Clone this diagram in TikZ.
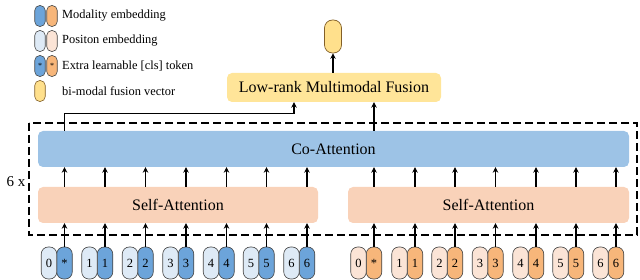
\documentclass[tikz,border=0pt]{standalone}
\usepackage{fontspec}
\setmainfont{Liberation Serif}
\usetikzlibrary{arrows.meta,calc}
\definecolor{blueD}{RGB}{108,164,218}
\definecolor{blueL}{RGB}{222,234,246}
\definecolor{orD}{RGB}{247,182,122}
\definecolor{orL}{RGB}{251,228,214}
\definecolor{coatt}{RGB}{157,195,230}
\definecolor{selfatt}{RGB}{249,210,185}
\definecolor{lmfc}{RGB}{255,229,153}
\definecolor{fusec}{RGB}{255,224,140}
\definecolor{fuseb}{RGB}{130,95,40}
\definecolor{pillb}{RGB}{70,70,70}
\tikzset{
  pill/.style={draw=pillb,line width=0.6pt,rounded corners=7pt,minimum width=15.5pt,minimum height=32pt,inner sep=0pt,font=\fontsize{12.5}{12.5}\selectfont},
  lpill/.style={draw=pillb,line width=0.6pt,rounded corners=5pt,minimum width=10.5pt,minimum height=21pt,inner sep=0pt,font=\fontsize{8}{8}\selectfont},
  bigbox/.style={rounded corners=5pt,inner sep=0pt,font=\fontsize{16}{16}\selectfont},
  arr/.style={line width=1.2pt,-{Stealth[length=5.5pt,width=5.5pt]}},
  legtxt/.style={anchor=west,inner sep=0pt,font=\fontsize{12.4}{12.4}\selectfont}
}
\begin{document}
\begin{tikzpicture}[x=1pt,y=-1pt]
\useasboundingbox (0,0) rectangle (640,280);
% legend
\node[lpill,fill=blueD] (lg1a) at (40,16) {};
\node[lpill,fill=orD] (lg1b) at (52,16) {};
\node[legtxt] (lt1) at (62,16) {Modality embedding};
\node[lpill,fill=blueL] (lg2a) at (40,41) {};
\node[lpill,fill=orL] (lg2b) at (52,41) {};
\node[legtxt] (lt2) at (62,41) {Positon embedding};
\node[lpill,fill=blueD] (lg3a) at (40,66) {*};
\node[lpill,fill=orD] (lg3b) at (52,66) {*};
\node[legtxt] (lt3) at (62,66) {Extra learnable [cls] token};
\node[lpill,fill=fusec,draw=fuseb] (lg4a) at (40,91) {};
\node[legtxt] (lt4) at (62,91) {bi-modal fusion vector};
% dashed box
\draw[line width=1.2pt,dash pattern=on 8pt off 4pt] (29,123) rectangle (637,235);
\node[font=\fontsize{15}{15}\selectfont,inner sep=0pt] (six) at (16,182) {6 x};
% boxes
\node[bigbox,fill=coatt,minimum width=591pt,minimum height=36pt] (ca) at (333.5,149) {Co-Attention};
\node[bigbox,fill=selfatt,minimum width=280pt,minimum height=36pt] (sa1) at (178,205) {Self-Attention};
\node[bigbox,fill=selfatt,minimum width=281pt,minimum height=36pt] (sa2) at (488.5,205) {Self-Attention};
\node[bigbox,fill=lmfc,minimum width=214pt,minimum height=29pt] (lmf) at (334,87.5) {Low-rank Multimodal Fusion};
\node[draw=fuseb,line width=0.7pt,fill=fusec,rounded corners=8pt,minimum width=17pt,minimum height=33pt,inner sep=0pt] (out) at (333,36.5) {};
\draw[arr] (lmf.north -| out) -- (out.south);
% tokens
\foreach \i/\x/\lab in {0/64.5/*,1/105/1,2/145.5/2,3/186/3,4/226.5/4,5/266.5/5,6/307/6}{
  \node[pill,fill=blueD] (dL\i) at (\x,263) {\lab};
  \node[pill,fill=blueL] (lL\i) at (\x-15.5,263) {\i};
  \draw[arr] (dL\i.north) -- (dL\i.north |- sa1.south);
  \draw[arr] (dL\i.north |- sa1.north) -- (dL\i.north |- ca.south);
}
\foreach \i/\x/\lab in {0/374/*,1/415/1,2/455/2,3/495.5/3,4/536/4,5/576/5,6/616/6}{
  \node[pill,fill=orD] (dR\i) at (\x,263) {\lab};
  \node[pill,fill=orL] (lR\i) at (\x-15.5,263) {\i};
  \draw[arr] (dR\i.north) -- (dR\i.north |- sa2.south);
  \draw[arr] (dR\i.north |- sa2.north) -- (dR\i.north |- ca.south);
}
\coordinate (lin) at ($(lmf.south)+(-40,0)$);
\draw[arr] (ca.north -| dL0) -- ++(0,-17) -| (lin);
\draw[arr] (ca.north -| dR0) -- (lmf.south -| dR0);
\end{tikzpicture}
\end{document}
